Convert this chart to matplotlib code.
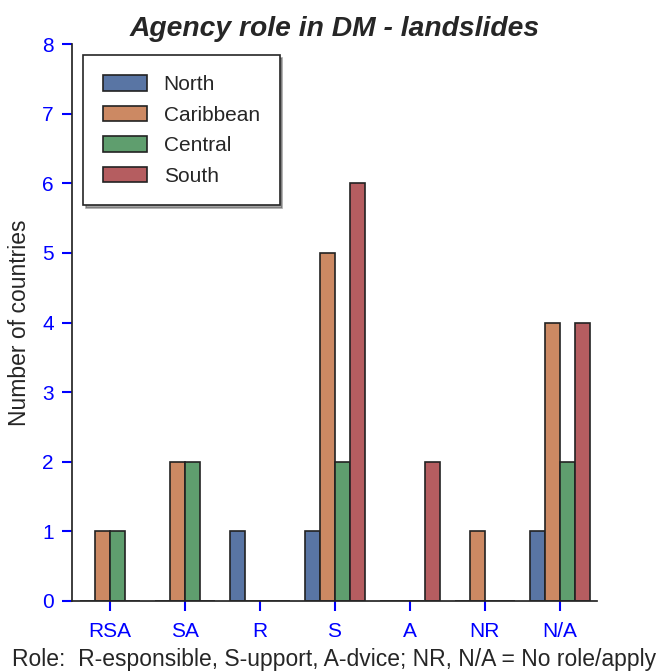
import matplotlib
matplotlib.use("Agg")
import matplotlib.pyplot as plt
import numpy as np
import seaborn as sns

categories = ["RSA", "SA", "R", "S", "A", "NR", "N/A"]
regions = ["North", "Caribbean", "Central", "South"]
north = [0, 0, 1, 1, 0, 0, 1]
caribbean = [1, 2, 0, 5, 0, 1, 4]
central = [1, 2, 0, 2, 0, 0, 2]
south = [0, 0, 0, 6, 2, 0, 4]
series = [north, caribbean, central, south]

plt.rcParams['font.family'] = ['Liberation Sans', 'DejaVu Sans']

palette = sns.color_palette("deep", 4)
colors = [sns.desaturate(c, 0.75) for c in palette]

fig = plt.figure(figsize=(6.61, 6.71), dpi=100)
ax = fig.add_axes([72/661, 1-601/671, (597-72)/661, (601-44)/671])

x = np.arange(len(categories))
w = 0.2
for i, (name, vals) in enumerate(zip(regions, series)):
    ax.bar(x + (i - 1.5) * w, vals, width=w, color=colors[i], edgecolor="#222222",
           linewidth=1.2, label=name)

ax.set_xlim(-0.5, len(categories) - 0.5)
ax.set_ylim(0, 8)
ax.set_yticks(range(0, 9))
ax.set_xticks(x)
ax.set_xticklabels(categories)
for s in ["top", "right"]:
    ax.spines[s].set_visible(False)
for s in ["left", "bottom"]:
    ax.spines[s].set_color("#262626")
    ax.spines[s].set_linewidth(1.25)
ax.tick_params(axis="both", colors="blue", labelsize=15, length=7, width=1.5,
               direction="out", pad=6)
ax.tick_params(axis="x", pad=8)

ax.set_title("Agency role in DM - landslides", fontsize=20.3, fontweight="bold",
             fontstyle="italic", color="#262626", pad=6)
ax.set_ylabel("Number of countries", fontsize=16.5, color="#262626", labelpad=8)
ax.set_xlabel("Role:  R-esponsible, S-upport, A-dvice; NR, N/A = No role/apply",
              fontsize=16.5, color="#262626", labelpad=5)

leg = ax.legend(loc="upper left", bbox_to_anchor=(0.0, 1.0), fancybox=False, shadow=True,
                fontsize=15, frameon=True, edgecolor="#262626", borderpad=0.95,
                handlelength=2.1, handleheight=0.75, labelspacing=0.55, handletextpad=0.8,
                borderaxespad=0.55)
leg.get_frame().set_linewidth(1.2)
for t in leg.get_texts():
    t.set_color("#262626")

fig.savefig("out.png", dpi=100)
